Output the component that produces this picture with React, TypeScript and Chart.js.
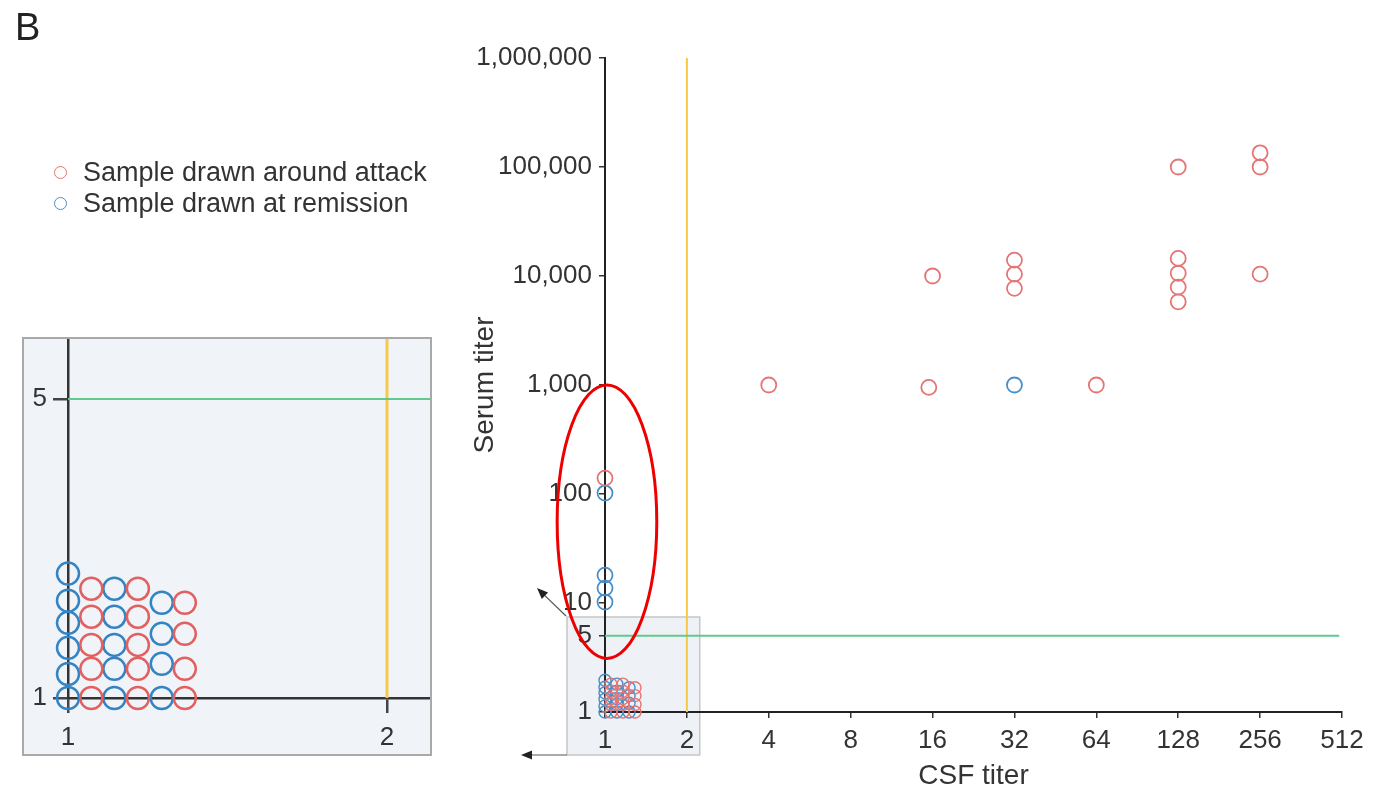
import React, { useEffect, useRef } from "react";
import { Chart, registerables } from "chart.js";

Chart.register(...registerables);

const FONT = "'Liberation Sans', Arial, Helvetica, sans-serif";
const TEXT = "#333333";
const RED = "rgb(229, 116, 116)";
const BLUE = "rgb(72, 142, 200)";
const RED_INSET = "rgb(226, 96, 96)";
const BLUE_INSET = "rgb(52, 132, 196)";
const GREEN = "rgb(98, 200, 142)";
const YELLOW = "rgb(246, 201, 72)";

const attackLabel = "Sample drawn around attack";
const remissionLabel = "Sample drawn at remission";

// axis ticks
const csfTicks = [1, 2, 4, 8, 16, 32, 64, 128, 256, 512];
const serumTicks = [1, 5, 10, 100, 1000, 10000, 100000, 1000000];
const insetCsfTicks = [1, 2];
const insetSerumTicks = [1, 5];

// samples (CSF titer, serum titer)
const attackCsf = [1, 4, 16, 15.5, 32, 32, 32, 64, 128, 128, 128, 128, 128, 256, 256, 256];
const attackSerum = [140, 1000, 10000, 950, 14000, 10400, 7700, 1000, 100000, 14500, 10600, 7900, 5800, 135000, 100000, 10400];
const remissionCsf = [1, 1, 1, 1, 32];
const remissionSerum = [102, 18, 13.7, 10.2, 1000];

// samples at CSF 1 / serum 1, spread apart so each is visible (enlarged in the inset)
const clusterAttackCsf = [1.052, 1.052, 1.052, 1.052, 1.052, 1.164, 1.164, 1.164, 1.164, 1.164, 1.289, 1.289, 1.289, 1.289];
const clusterAttackSerum = [1, 1.17, 1.331, 1.549, 1.801, 1, 1.17, 1.331, 1.549, 1.801, 1, 1.17, 1.413, 1.67];
const clusterRemissionCsf = [1, 1, 1, 1, 1, 1, 1.106, 1.106, 1.106, 1.106, 1.106, 1.226, 1.226, 1.226, 1.226];
const clusterRemissionSerum = [1, 1.138, 1.31, 1.499, 1.689, 1.954, 1, 1.17, 1.331, 1.549, 1.801, 1, 1.202, 1.413, 1.67];

// cut-offs
const csfCutoff = 2;
const serumCutoff = 5;

// annotation regions (data coordinates)
const zoomBox = { csfMin: 0.725, csfMax: 2.23, serumMin: 0.403, serumMax: 7.44 };
const ellipseBox = { csfMin: 0.667, csfMax: 1.55, serumMin: 3.1, serumMax: 1000 };
const insetCsfRange = [1, 2.196];
const insetSerumRange = [1, 6.91];

const pts = (xs: number[], ys: number[]) => xs.map((x, i) => ({ x, y: ys[i] }));
const fmt = (v: any) => Number(v).toLocaleString("en-US");

function ring(data: any[], color: string, r: number, w: number) {
  return {
    data,
    showLine: false,
    clip: false as any,
    pointRadius: r,
    pointHoverRadius: r,
    pointBorderWidth: w,
    pointBorderColor: color,
    pointBackgroundColor: "rgba(0,0,0,0)",
    borderColor: color,
    backgroundColor: "rgba(0,0,0,0)",
  };
}

function zeroPad(s: any) {
  s.paddingTop = 0;
  s.paddingBottom = 0;
  s.paddingLeft = 0;
  s.paddingRight = 0;
}

function arrow(ctx: CanvasRenderingContext2D, x1: number, y1: number, x2: number, y2: number) {
  const ang = Math.atan2(y2 - y1, x2 - x1);
  const len = 11;
  const half = 4.5;
  ctx.beginPath();
  ctx.moveTo(x1, y1);
  ctx.lineTo(x2 - Math.cos(ang) * len * 0.8, y2 - Math.sin(ang) * len * 0.8);
  ctx.stroke();
  ctx.beginPath();
  ctx.moveTo(x2, y2);
  ctx.lineTo(x2 - Math.cos(ang) * len - Math.sin(ang) * half, y2 - Math.sin(ang) * len + Math.cos(ang) * half);
  ctx.lineTo(x2 - Math.cos(ang) * len + Math.sin(ang) * half, y2 - Math.sin(ang) * len - Math.cos(ang) * half);
  ctx.closePath();
  ctx.fill();
}

const mainDecor = {
  id: "mainDecor",
  beforeDraw(chart: any) {
    const { ctx, scales } = chart;
    const x = scales.x, y = scales.y;
    const l = x.getPixelForValue(zoomBox.csfMin);
    const r = x.getPixelForValue(zoomBox.csfMax);
    const t = y.getPixelForValue(zoomBox.serumMax);
    const b = y.getPixelForValue(zoomBox.serumMin);
    ctx.save();
    ctx.fillStyle = "#eef2f6";
    ctx.fillRect(l, t, r - l, b - t);
    ctx.strokeStyle = "#c6c6c6";
    ctx.lineWidth = 1.5;
    ctx.strokeRect(l, t, r - l, b - t);
    ctx.restore();
  },
  beforeDatasetsDraw(chart: any) {
    const { ctx, scales } = chart;
    const x = scales.x, y = scales.y;
    ctx.save();
    ctx.lineWidth = 2;
    ctx.strokeStyle = YELLOW;
    const xc = x.getPixelForValue(csfCutoff);
    ctx.beginPath();
    ctx.moveTo(xc, y.getPixelForValue(serumTicks[0]));
    ctx.lineTo(xc, y.getPixelForValue(serumTicks[serumTicks.length - 1]));
    ctx.stroke();
    ctx.strokeStyle = GREEN;
    const yc = y.getPixelForValue(serumCutoff);
    ctx.beginPath();
    ctx.moveTo(x.getPixelForValue(csfTicks[0]), yc);
    ctx.lineTo(x.getPixelForValue(500), yc);
    ctx.stroke();
    ctx.restore();
  },
  afterDatasetsDraw(chart: any) {
    const { ctx, scales } = chart;
    const x = scales.x, y = scales.y;
    const l = x.getPixelForValue(ellipseBox.csfMin);
    const r = x.getPixelForValue(ellipseBox.csfMax);
    const t = y.getPixelForValue(ellipseBox.serumMax);
    const b = y.getPixelForValue(ellipseBox.serumMin);
    ctx.save();
    ctx.strokeStyle = "rgb(238, 0, 0)";
    ctx.lineWidth = 3;
    ctx.beginPath();
    ctx.ellipse((l + r) / 2, (t + b) / 2, (r - l) / 2, (b - t) / 2, 0, 0, Math.PI * 2);
    ctx.stroke();
    // arrows from the zoom box towards the enlarged inset
    const bl = x.getPixelForValue(zoomBox.csfMin);
    const bt = y.getPixelForValue(zoomBox.serumMax);
    const bb = y.getPixelForValue(zoomBox.serumMin);
    ctx.strokeStyle = "#555";
    ctx.fillStyle = "#222";
    ctx.lineWidth = 1.2;
    arrow(ctx, bl - 1, bt - 1, bl - 30, bt - 29);
    arrow(ctx, bl, bb, bl - 46, bb);
    ctx.restore();
  },
};

const insetDecor = {
  id: "insetDecor",
  beforeDatasetsDraw(chart: any) {
    const { ctx, scales, chartArea } = chart;
    const x = scales.x, y = scales.y;
    ctx.save();
    ctx.lineWidth = 3;
    ctx.strokeStyle = YELLOW;
    const xc = x.getPixelForValue(csfCutoff);
    ctx.beginPath();
    ctx.moveTo(xc, y.getPixelForValue(insetSerumRange[0]));
    ctx.lineTo(xc, chartArea.top);
    ctx.stroke();
    ctx.lineWidth = 2;
    ctx.strokeStyle = GREEN;
    const yc = y.getPixelForValue(serumCutoff);
    ctx.beginPath();
    ctx.moveTo(x.getPixelForValue(insetCsfRange[0]), yc);
    ctx.lineTo(chartArea.right, yc);
    ctx.stroke();
    ctx.restore();
  },
};

export default function App() {
  const mainRef = useRef<HTMLCanvasElement>(null);
  const insetRef = useRef<HTMLCanvasElement>(null);

  useEffect(() => {
    const tickFont = { family: FONT, size: 26 };
    const titleFont = { family: FONT, size: 28 };
    const main = new Chart(mainRef.current as HTMLCanvasElement, {
      type: "scatter",
      data: {
        datasets: [
          { label: attackLabel, ...ring(pts(attackCsf, attackSerum), RED, 7.5, 1.8) },
          { label: remissionLabel, ...ring(pts(remissionCsf, remissionSerum), BLUE, 7.5, 1.8) },
          { label: attackLabel, ...ring(pts(clusterAttackCsf, clusterAttackSerum), RED, 6, 1.4) },
          { label: remissionLabel, ...ring(pts(clusterRemissionCsf, clusterRemissionSerum), BLUE, 6, 1.4) },
        ] as any,
      },
      options: {
        responsive: false,
        animation: false,
        events: [],
        devicePixelRatio: 1,
        layout: { autoPadding: false, padding: { left: 458, right: 49, top: 58, bottom: 0 } },
        plugins: { legend: { display: false }, tooltip: { enabled: false } },
        scales: {
          x: {
            type: "logarithmic",
            min: csfTicks[0],
            max: csfTicks[csfTicks.length - 1],
            afterBuildTicks: (s: any) => {
              s.ticks = csfTicks.map((v) => ({ value: v }));
            },
            afterFit: (s: any) => {
              s.height = 83;
              zeroPad(s);
            },
            ticks: { callback: (v: any) => String(v), font: tickFont, color: TEXT, padding: 7, autoSkip: false, maxRotation: 0 },
            grid: { display: true, drawOnChartArea: false, drawTicks: true, tickLength: 6, color: "#333", lineWidth: 1.5 },
            border: { display: true, color: "#222", width: 2 },
            title: { display: true, text: "CSF titer", font: titleFont, color: TEXT, padding: { top: 0, bottom: 2 } },
          },
          y: {
            type: "logarithmic",
            min: serumTicks[0],
            max: serumTicks[serumTicks.length - 1],
            afterBuildTicks: (s: any) => {
              s.ticks = serumTicks.map((v) => ({ value: v }));
            },
            afterFit: (s: any) => {
              s.width = 147;
              zeroPad(s);
            },
            ticks: { callback: (v: any) => fmt(v), font: tickFont, color: TEXT, padding: 7, autoSkip: false },
            grid: { display: true, drawOnChartArea: false, drawTicks: true, tickLength: 6, color: "#333", lineWidth: 1.5 },
            border: { display: true, color: "#222", width: 2 },
            title: { display: true, text: "Serum titer", font: titleFont, color: TEXT, padding: { top: 10, bottom: 0 } },
          },
        },
      } as any,
      plugins: [mainDecor],
    });

    const inset = new Chart(insetRef.current as HTMLCanvasElement, {
      type: "scatter",
      data: {
        datasets: [
          { label: attackLabel, ...ring(pts(clusterAttackCsf, clusterAttackSerum), RED_INSET, 11, 2.5) },
          { label: remissionLabel, ...ring(pts(clusterRemissionCsf, clusterRemissionSerum), BLUE_INSET, 11, 2.5) },
        ] as any,
      },
      options: {
        responsive: false,
        animation: false,
        events: [],
        devicePixelRatio: 1,
        layout: { autoPadding: false, padding: 0 },
        plugins: { legend: { display: false }, tooltip: { enabled: false } },
        scales: {
          x: {
            type: "logarithmic",
            min: insetCsfRange[0],
            max: insetCsfRange[1],
            afterBuildTicks: (s: any) => {
              s.ticks = insetCsfTicks.map((v) => ({ value: v }));
            },
            afterFit: (s: any) => {
              s.height = 56;
              zeroPad(s);
            },
            ticks: { callback: (v: any) => String(v), font: tickFont, color: TEXT, padding: 9, autoSkip: false, maxRotation: 0 },
            grid: { display: true, drawOnChartArea: false, drawTicks: true, tickLength: 15, color: "#444", lineWidth: 2.5 },
            border: { display: true, color: "#333", width: 2.5 },
          },
          y: {
            type: "logarithmic",
            min: insetSerumRange[0],
            max: insetSerumRange[1],
            afterBuildTicks: (s: any) => {
              s.ticks = insetSerumTicks.map((v) => ({ value: v }));
            },
            afterFit: (s: any) => {
              s.width = 44;
              zeroPad(s);
            },
            ticks: { callback: (v: any) => fmt(v), font: tickFont, color: TEXT, padding: 6, autoSkip: false },
            grid: { display: true, drawOnChartArea: false, drawTicks: true, tickLength: 15, color: "#444", lineWidth: 2.5 },
            border: { display: true, color: "#333", width: 2.5 },
          },
        },
      } as any,
      plugins: [insetDecor],
    });

    return () => {
      main.destroy();
      inset.destroy();
    };
  }, []);

  const legendRow = (color: string, text: string) => (
    <div style={{ display: "flex", alignItems: "center", height: 31 }}>
      <span
        style={{
          display: "inline-block",
          width: 13,
          height: 13,
          boxSizing: "border-box",
          border: `1.5px solid ${color}`,
          borderRadius: "50%",
          marginRight: 16,
        }}
      />
      <span>{text}</span>
    </div>
  );

  return (
    <div style={{ position: "absolute", left: 0, top: 0, width: 1391, height: 795, background: "#ffffff", overflow: "hidden" }}>
      <canvas ref={mainRef} width={1391} height={795} style={{ position: "absolute", left: 0, top: 0, width: 1391, height: 795 }} />
      <div style={{ position: "absolute", left: 15, top: 8, fontFamily: FONT, fontSize: 38, lineHeight: 1, color: "#222" }}>B</div>
      <div style={{ position: "absolute", left: 54, top: 157, fontFamily: FONT, fontSize: 27, color: TEXT, whiteSpace: "nowrap" }}>
        {legendRow(RED, attackLabel)}
        {legendRow(BLUE, remissionLabel)}
      </div>
      <div
        style={{
          position: "absolute",
          left: 22,
          top: 337,
          width: 410,
          height: 419,
          boxSizing: "border-box",
          border: "2px solid #a9a9a9",
          background: "#f0f4f8",
        }}
      >
        <canvas ref={insetRef} width={406} height={415} style={{ position: "absolute", left: 0, top: 0, width: 406, height: 415 }} />
      </div>
    </div>
  );
}
